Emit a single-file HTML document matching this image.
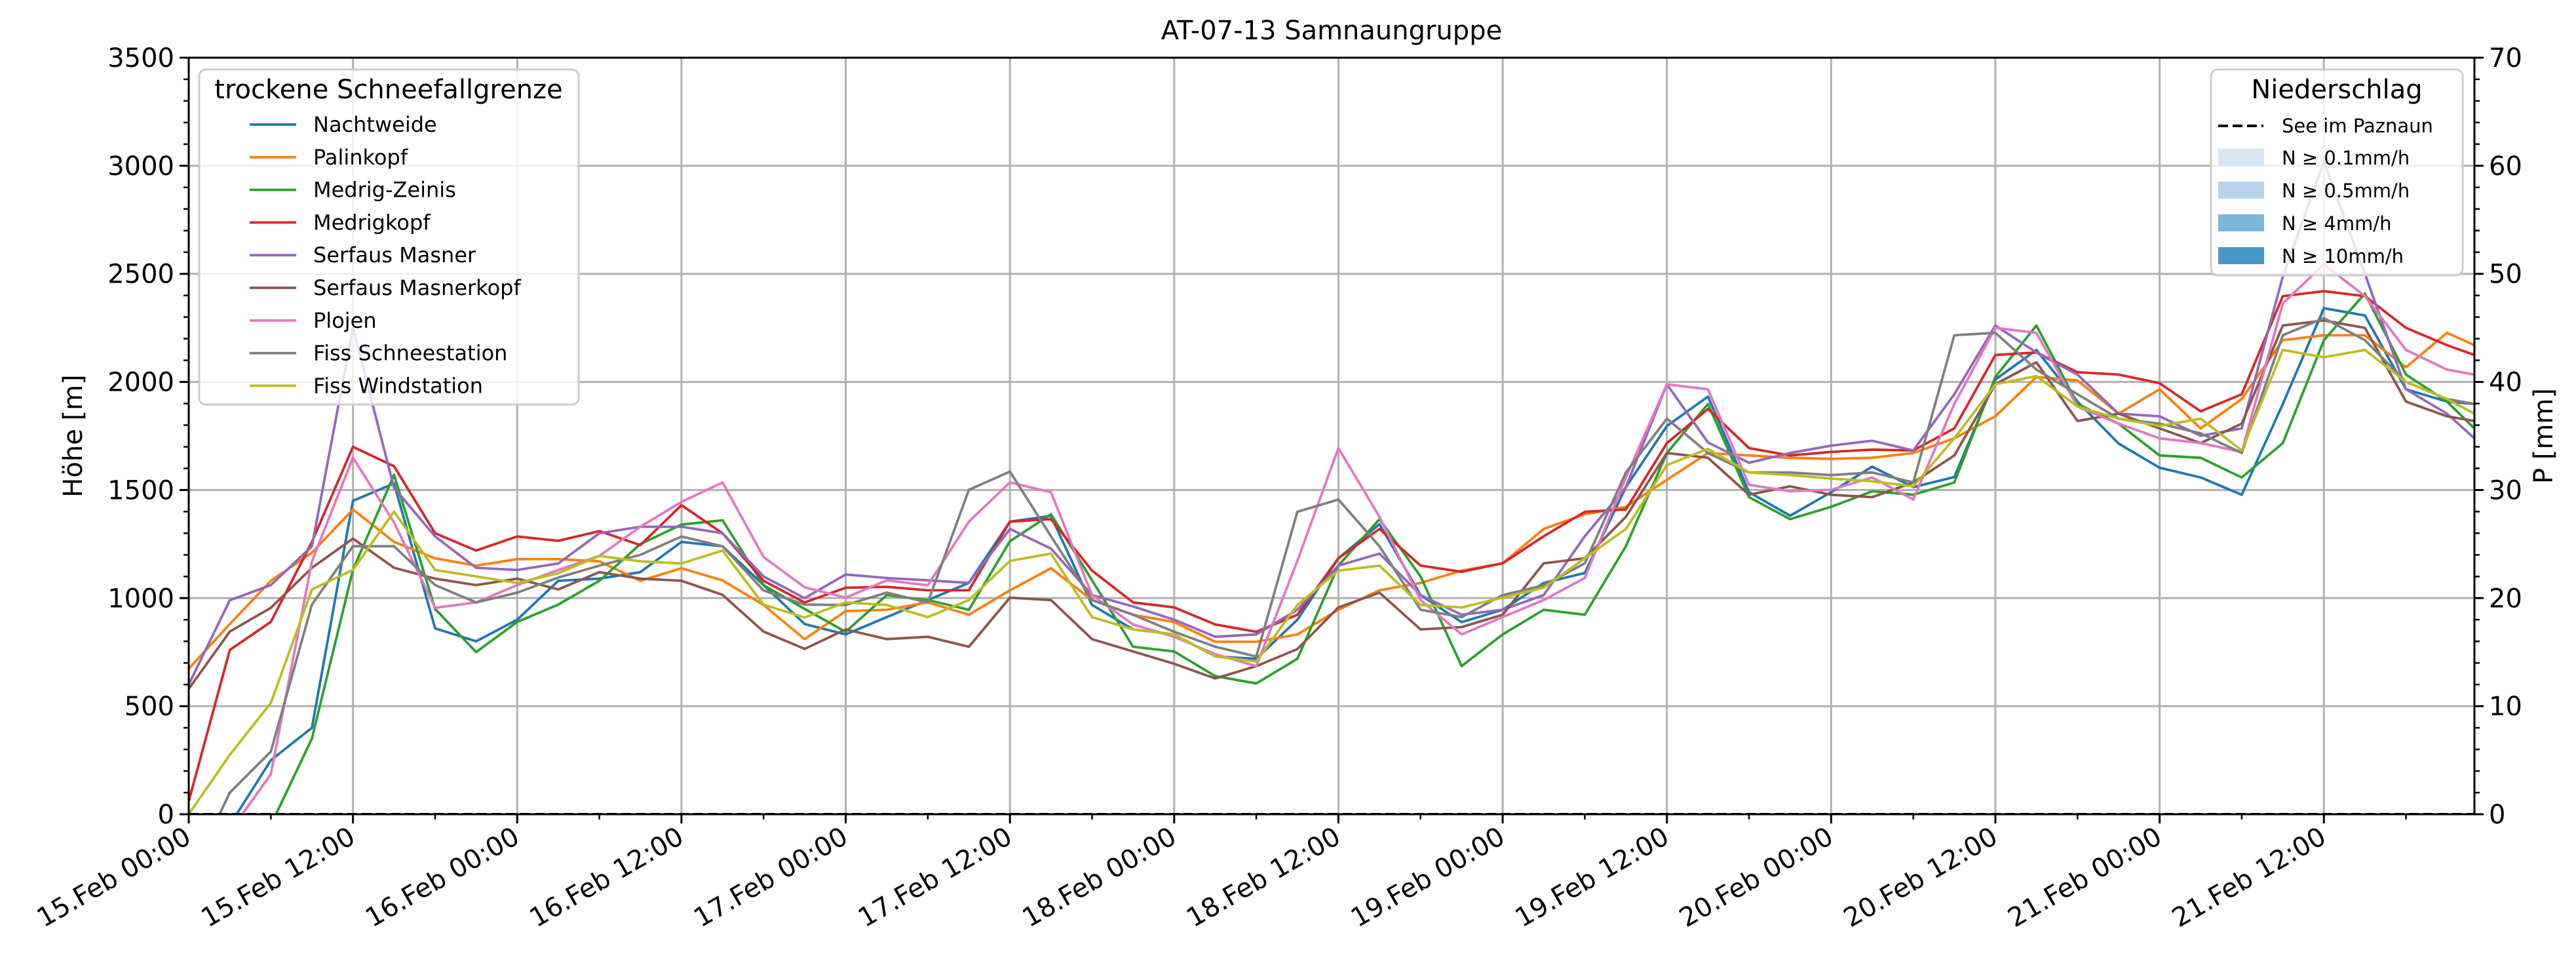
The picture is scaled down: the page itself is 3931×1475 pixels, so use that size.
<!DOCTYPE html>
<html><head><meta charset="utf-8"><style>
html,body{margin:0;padding:0;background:#fff;}
svg{display:block;font-family:"DejaVu Sans","Liberation Sans",sans-serif;}
</style></head><body>
<svg id="chart" width="3931" height="1475" viewBox="0 0 3931 1475" xmlns="http://www.w3.org/2000/svg">
<rect x="0" y="0" width="3931" height="1475" fill="#fff"/>
<defs><clipPath id="plotclip"><rect x="288" y="88" width="3488" height="1154"/></clipPath></defs>
<g id="grid"></g>
<g id="series" clip-path="url(#plotclip)"></g>
<g id="axes"></g>
<text x="2032" y="60" font-size="40" text-anchor="middle">AT-07-13 Samnaungruppe</text>
<text x="0" y="0" font-size="40" text-anchor="middle" transform="translate(125,665) rotate(-90)">Höhe [m]</text>
<text x="0" y="0" font-size="40" text-anchor="middle" transform="translate(3895,665) rotate(-90)">P [mm]</text>
<g id="legend1"></g>
<g id="legend2"></g>
</svg>
<script>
const hours = [0,3,6,9,12,15,18,21,24,27,30,33,36,39,42,45,48,51,54,57,60,63,66,69,72,75,78,81,84,87,90,93,96,99,102,105,108,111,114,117,120,123,126,129,132,135,138,141,144,147,150,153,156,159,162,165,167];
const nachtweide = [-400,-50,250,400,1450,1530,860,800,900,1080,1090,1120,1260,1240,1060,880,832,912,991,1070,1354,1380,968,855,832,730,719,900,1184,1342,1014,889,946,1070,1116,1513,1796,1932,1490,1381,1490,1608,1513,1560,2011,2148,1909,1715,1603,1558,1478,1898,2341,2307,1966,1909,1898];
const palinkopf = [673,880,1080,1210,1410,1260,1184,1150,1180,1180,1170,1080,1138,1082,968,810,940,946,980,923,1036,1138,991,923,889,798,798,832,946,1036,1070,1127,1161,1320,1388,1422,1547,1671,1660,1649,1644,1649,1671,1739,1841,2023,2007,1853,1966,1785,1921,2193,2216,2216,2068,2227,2170];
const medrigZeinis = [-600,-400,-50,350,1130,1570,950,750,890,970,1080,1250,1340,1360,1060,950,844,1014,991,946,1263,1388,1082,775,753,639,605,719,1150,1365,1100,685,832,946,923,1240,1671,1898,1467,1365,1422,1494,1478,1535,2023,2261,1898,1807,1660,1649,1558,1717,2193,2409,2034,1909,1785];
const medrigkopf = [60,760,890,1260,1700,1610,1300,1220,1285,1265,1310,1245,1430,1300,1080,980,1048,1052,1036,1036,1354,1365,1127,980,957,878,844,923,1184,1320,1150,1122,1161,1286,1399,1410,1717,1875,1694,1660,1676,1687,1683,1785,2125,2136,2045,2034,1994,1864,1943,2397,2420,2397,2250,2170,2125];
const serfausMasner = [600,990,1060,1240,2250,1510,1285,1140,1130,1160,1300,1330,1330,1300,1100,1000,1109,1093,1082,1070,1320,1229,1014,961,900,821,832,946,1150,1206,1014,923,946,1014,1286,1513,1989,1720,1626,1671,1705,1728,1683,1943,2261,2136,2034,1853,1841,1751,1785,2488,3020,2500,1966,1853,1739];
const serfausMasnerkopf = [580,845,955,1140,1275,1140,1090,1060,1090,1040,1120,1090,1080,1015,845,765,855,810,821,775,1002,991,810,753,696,628,685,764,957,1025,855,866,923,1161,1184,1376,1671,1649,1478,1517,1478,1467,1535,1660,1989,2091,1819,1853,1785,1717,1807,2261,2284,2250,1909,1841,1819];
const plojen = [-500,-80,185,1170,1650,1350,955,980,1060,1130,1195,1330,1445,1535,1190,1050,1002,1082,1059,1354,1535,1490,1014,878,821,741,685,1172,1694,1376,991,832,912,991,1093,1558,1989,1966,1524,1494,1501,1558,1456,1898,2250,2227,1886,1807,1739,1717,1676,2363,2544,2397,2148,2057,2034];
const fissSchnee = [-300,100,290,970,1240,1240,1060,980,1025,1095,1150,1200,1285,1240,1035,970,968,1025,980,1501,1585,1286,991,923,844,775,730,1399,1456,1240,946,912,1014,1059,1161,1581,1830,1671,1581,1581,1569,1581,1535,2216,2227,2057,1943,1830,1807,1762,1671,2216,2295,2193,2000,1921,1898];
const fissWind = [0,275,515,1040,1130,1400,1130,1100,1070,1115,1195,1170,1160,1220,970,910,980,968,912,991,1172,1206,912,855,832,730,707,968,1127,1150,968,957,1002,1048,1184,1320,1615,1690,1581,1569,1553,1540,1517,1739,1989,2027,1886,1830,1796,1830,1683,2148,2114,2148,2000,1921,1853];
const precipPaznaun = [0,0,0,0,0,0,0,0,0,0,0,0,0,0,0,0,0,0,0,0,0,0,0,0,0,0,0,0,0,0,0,0,0,0,0,0,0,0,0,0,0,0,0,0,0,0,0,0,0,0,0,0,0,0,0,0,0];
const seriesNames = ["Nachtweide","Palinkopf","Medrig-Zeinis","Medrigkopf","Serfaus Masner","Serfaus Masnerkopf","Plojen","Fiss Schneestation","Fiss Windstation"];
const yTicks = [0,500,1000,1500,2000,2500,3000,3500];
const y2Ticks = [0,10,20,30,40,50,60,70];
const xTickLabels = ["15.Feb 00:00","15.Feb 12:00","16.Feb 00:00","16.Feb 12:00","17.Feb 00:00","17.Feb 12:00","18.Feb 00:00","18.Feb 12:00","19.Feb 00:00","19.Feb 12:00","20.Feb 00:00","20.Feb 12:00","21.Feb 00:00","21.Feb 12:00"];
const precipLegend = ["N ≥ 0.1mm/h","N ≥ 0.5mm/h","N ≥ 4mm/h","N ≥ 10mm/h"];

const colors = ["#1f77b4","#ff7f0e","#2ca02c","#d62728","#9467bd","#8c564b","#e377c2","#7f7f7f","#bcbd22"];
const patchColors = ["#d6e6f4","#b8d4ea","#7fb5d9","#4a98c9"];
const NS = "http://www.w3.org/2000/svg";
const L=288,R=3776,T=88,B=1242, HMAX=167;
const xs = h => L + h*(R-L)/HMAX;
const ys = v => B - v*(B-T)/3500;
const y2s = v => B - v*(B-T)/70;
function mk(tag, attrs, parent){const e=document.createElementNS(NS,tag);for(const k in attrs)e.setAttribute(k,attrs[k]);parent.appendChild(e);return e;}
const grid=document.getElementById('grid'), axes=document.getElementById('axes'), ser=document.getElementById('series');

// grid
for(let i=0;i*12<=HMAX;i++){const g=mk('line',{x1:xs(i*12),x2:xs(i*12),y1:T,y2:B,stroke:'#b0b0b0','stroke-width':3},grid);

}
yTicks.forEach(v=>{const g=mk('line',{x1:L,x2:R,y1:ys(v),y2:ys(v),stroke:'#b0b0b0','stroke-width':3},grid);

});

// series
const allSeries=[nachtweide,palinkopf,medrigZeinis,medrigkopf,serfausMasner,serfausMasnerkopf,plojen,fissSchnee,fissWind];
allSeries.forEach((arr,i)=>{
  const d=arr.map((v,j)=>(j?'L':'M')+xs(hours[j]).toFixed(1)+','+ys(v).toFixed(1)).join(' ');
  const p=mk('path',{d:d,fill:'none',stroke:colors[i],'stroke-width':3.8,'stroke-linejoin':'round'},ser);
  
  
});
{const d=precipPaznaun.map((v,j)=>(j?'L':'M')+xs(hours[j]).toFixed(1)+','+y2s(v).toFixed(1)).join(' ');
const p=mk('path',{d:d,fill:'none',stroke:'#000','stroke-width':4,'stroke-dasharray':'15,7'},ser);

}

// spines
const sp=mk('rect',{x:L,y:T,width:R-L,height:B-T,fill:'none',stroke:'#000','stroke-width':3},axes);



// y ticks
for(let v=0;v<=3500;v+=100){const major=v%500===0;mk('line',{x1:L,x2:L-(major?14:8),y1:ys(v),y2:ys(v),stroke:'#000','stroke-width':major?3:2.5},axes);}
yTicks.forEach(v=>{const t=mk('text',{x:L-22,y:ys(v)+14,'font-size':40,'text-anchor':'end'},axes);t.textContent=v;

});
for(let v=0;v<=70;v+=2){const major=v%10===0;mk('line',{x1:R,x2:R+(major?14:8),y1:y2s(v),y2:y2s(v),stroke:'#000','stroke-width':major?3:2.5},axes);}
y2Ticks.forEach(v=>{const t=mk('text',{x:R+22,y:y2s(v)+14,'font-size':40,'text-anchor':'start'},axes);t.textContent=v;

});
// x ticks
for(let h=0;h<=HMAX;h+=6){const major=h%12===0;mk('line',{x1:xs(h),x2:xs(h),y1:B,y2:B+(major?14:8),stroke:'#000','stroke-width':major?3:2.5},axes);}
xTickLabels.forEach((s,i)=>{const x=xs(i*12);const t=mk('text',{x:0,y:0,'font-size':40,'text-anchor':'end',transform:`translate(${x+6},${B+42}) rotate(-30)`},axes);t.textContent=s;

});

// legend 1
const l1=document.getElementById('legend1');
mk('rect',{x:304,y:106,width:579,height:511,rx:10,fill:'#fff','fill-opacity':0.8,stroke:'#cccccc','stroke-width':3},l1);
{const t=mk('text',{x:593,y:150,'font-size':40,'text-anchor':'middle'},l1);t.textContent='trockene Schneefallgrenze';

}
seriesNames.forEach((n,i)=>{const cy=190+i*49.8;
const ln=mk('line',{x1:381,x2:452,y1:cy,y2:cy,stroke:colors[i],'stroke-width':3.8},l1);


const t=mk('text',{x:478,y:cy+11,'font-size':32},l1);t.textContent=n;

});

// legend 2
const l2=document.getElementById('legend2');
mk('rect',{x:3374,y:106,width:384,height:314,rx:10,fill:'#fff','fill-opacity':0.8,stroke:'#cccccc','stroke-width':3},l2);
{const t=mk('text',{x:3566,y:150,'font-size':40,'text-anchor':'middle'},l2);t.textContent='Niederschlag';

}
{mk('line',{x1:3385,x2:3454,y1:192,y2:192,stroke:'#000','stroke-width':4,'stroke-dasharray':'15,7'},l2);
const t=mk('text',{x:3482,y:202,'font-size':29},l2);t.textContent='See im Paznaun';

}
precipLegend.forEach((s,i)=>{const cy=240+i*50;
const r=mk('rect',{x:3385,y:cy-13,width:70,height:26,fill:patchColors[i]},l2);


const t=mk('text',{x:3482,y:cy+11,'font-size':29},l2);t.textContent=s;

});
</script>
</body></html>
